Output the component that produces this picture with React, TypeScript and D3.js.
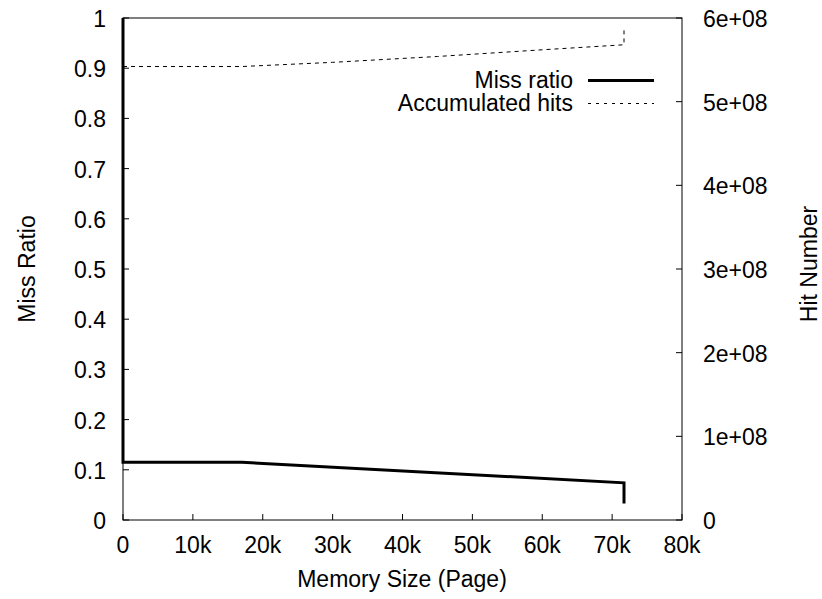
import React from "react";
import * as d3 from "d3";

const missX = [0, 0, 17000, 71700, 71700];
const missY = [1, 0.115, 0.115, 0.074, 0.033];
const hitX = [0, 17000, 30000, 45000, 60000, 71700, 71700];
const hitY = [5.42e8, 5.42e8, 5.47e8, 5.54e8, 5.62e8, 5.68e8, 5.86e8];
const xTicks = [0, 10000, 20000, 30000, 40000, 50000, 60000, 70000, 80000];
const yTicks = [0, 0.1, 0.2, 0.3, 0.4, 0.5, 0.6, 0.7, 0.8, 0.9, 1];
const y2Ticks = [0, 1e8, 2e8, 3e8, 4e8, 5e8, 6e8];

const W = 822, H = 599;
const L = 123, R = 682, T = 18, B = 520;
const FONT = "'Liberation Sans', Arial, Helvetica, sans-serif";
const FS = 23;

export default function App() {
  const x = d3.scaleLinear().domain([0, 80000]).range([L, R]);
  const y = d3.scaleLinear().domain([0, 1]).range([B, T]);
  const y2 = d3.scaleLinear().domain([0, 6e8]).range([B, T]);
  const missLine = d3.line<number>().x((_, i) => x(missX[i])).y((d) => y(d));
  const hitLine = d3.line<number>().x((_, i) => x(hitX[i])).y((d) => y2(d));
  const xFmt = (v: number) => (v === 0 ? "0" : `${v / 1000}k`);
  const y2Fmt = (v: number) => (v === 0 ? "0" : `${v / 1e8}e+08`);
  const tl = 6;
  return (
    <svg width={W} height={H} style={{ position: "absolute", left: 0, top: 0, background: "#fff" }}
      fontFamily={FONT} fontSize={FS}>
      <rect x={0} y={0} width={W} height={H} fill="#fff" />
      {/* ticks */}
      {yTicks.map((t) => (
        <g key={"y" + t}>
          <line x1={L} x2={L + tl} y1={y(t)} y2={y(t)} stroke="#000" strokeWidth={1} />
          <text x={106} y={y(t) + 9} textAnchor="end">{String(t)}</text>
        </g>
      ))}
      {y2Ticks.map((t) => (
        <g key={"y2" + t}>
          <line x1={R} x2={R - tl} y1={y2(t)} y2={y2(t)} stroke="#000" strokeWidth={1} />
          <text x={703} y={y2(t) + 9} textAnchor="start">{y2Fmt(t)}</text>
        </g>
      ))}
      {xTicks.map((t) => (
        <g key={"x" + t}>
          <line x1={x(t)} x2={x(t)} y1={B} y2={B - tl} stroke="#000" strokeWidth={1} />
          <text x={x(t)} y={553} textAnchor="middle">{xFmt(t)}</text>
        </g>
      ))}
      <rect x={L} y={T} width={R - L} height={B - T} fill="none" stroke="#000" strokeWidth={1} />
      {/* series */}
      <path d={hitLine(hitY) || ""} fill="none" stroke="#000" strokeWidth={1} strokeDasharray="4,4" />
      <path d={missLine(missY) || ""} fill="none" stroke="#000" strokeWidth={3} />
      {/* legend */}
      <text x={573} y={88} textAnchor="end">Miss ratio</text>
      <line x1={588} x2={654} y1={80.5} y2={80.5} stroke="#000" strokeWidth={3} />
      <text x={573} y={111} textAnchor="end">Accumulated hits</text>
      <line x1={588} x2={654} y1={103.5} y2={103.5} stroke="#000" strokeWidth={1} strokeDasharray="3,5" />
      {/* titles */}
      <text x={402} y={587} textAnchor="middle">Memory Size (Page)</text>
      <text transform={`translate(35,269) rotate(-90)`} textAnchor="middle">Miss Ratio</text>
      <text transform={`translate(817,264) rotate(-90)`} textAnchor="middle">Hit Number</text>
    </svg>
  );
}
